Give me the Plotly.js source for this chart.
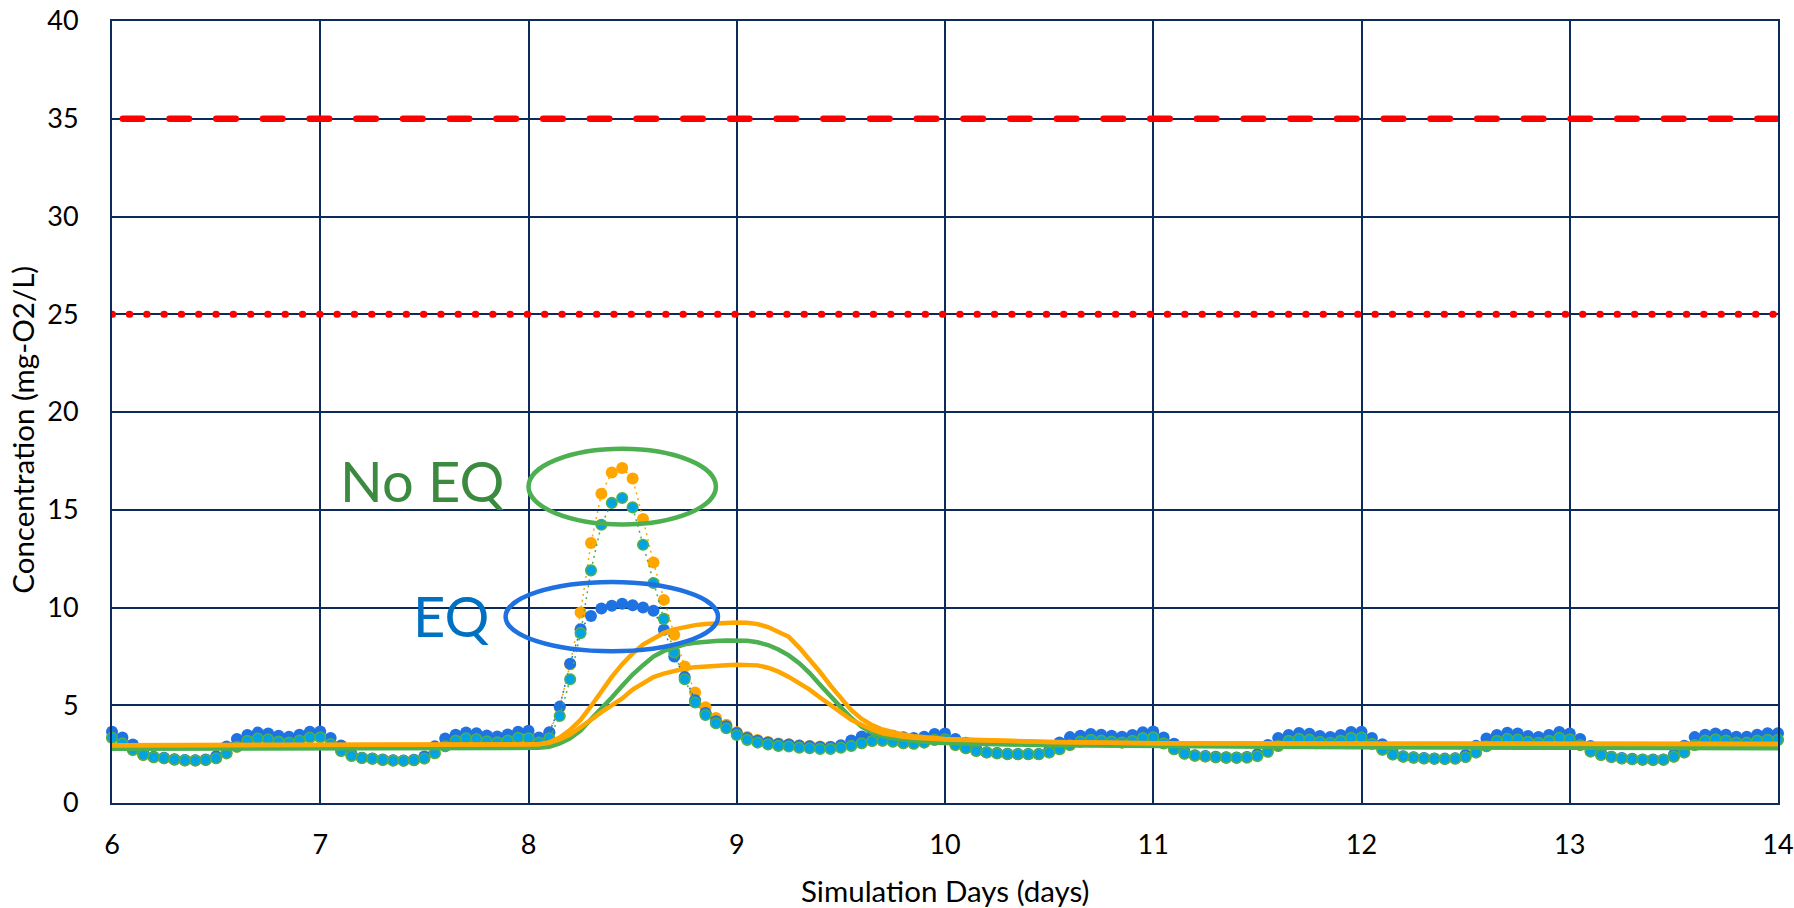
<!DOCTYPE html>
<html>
<head>
<meta charset="utf-8">
<script src="https://cdn.plot.ly/plotly-3.0.1.min.js"></script>
<style>
html,body{margin:0;padding:0;background:#ffffff;}
#chart{width:1794px;height:908px;}
</style>
</head>
<body>
<div id="chart"></div>
<script>
// ---- x values (simulation days) for the dotted marker series ----
const days = [
6,6.05,6.1,6.15,6.2,6.25,6.3,6.35,6.4,6.45,6.5,6.55,6.6,6.65,6.7,6.75,6.8,6.85,6.9,6.95,
7,7.05,7.1,7.15,7.2,7.25,7.3,7.35,7.4,7.45,7.5,7.55,7.6,7.65,7.7,7.75,7.8,7.85,7.9,7.95,
8,8.05,8.1,8.15,8.2,8.25,8.3,8.35,8.4,8.45,8.5,8.55,8.6,8.65,8.7,8.75,8.8,8.85,8.9,8.95,
9,9.05,9.1,9.15,9.2,9.25,9.3,9.35,9.4,9.45,9.5,9.55,9.6,9.65,9.7,9.75,9.8,9.85,9.9,9.95,
10,10.05,10.1,10.15,10.2,10.25,10.3,10.35,10.4,10.45,10.5,10.55,10.6,10.65,10.7,10.75,10.8,10.85,10.9,10.95,
11,11.05,11.1,11.15,11.2,11.25,11.3,11.35,11.4,11.45,11.5,11.55,11.6,11.65,11.7,11.75,11.8,11.85,11.9,11.95,
12,12.05,12.1,12.15,12.2,12.25,12.3,12.35,12.4,12.45,12.5,12.55,12.6,12.65,12.7,12.75,12.8,12.85,12.9,12.95,
13,13.05,13.1,13.15,13.2,13.25,13.3,13.35,13.4,13.45,13.5,13.55,13.6,13.65,13.7,13.75,13.8,13.85,13.9,13.95,
14];

// No EQ, orange dotted series
const orangeDots = [
3.34,3.05,2.71,2.46,2.34,2.29,2.22,2.18,2.17,2.20,2.29,2.54,2.88,3.18,3.30,3.26,3.14,3.09,3.19,3.35,
3.36,3.02,2.66,2.41,2.30,2.26,2.20,2.17,2.16,2.19,2.28,2.55,2.90,3.19,3.31,3.27,3.15,3.10,3.20,3.34,
3.31,3.09,3.60,4.90,7.10,9.74,13.30,15.82,16.91,17.14,16.60,14.53,12.30,10.39,8.60,6.98,5.65,4.90,4.35,4.00,
3.62,3.38,3.22,3.12,3.04,3.00,2.95,2.92,2.89,2.88,2.92,2.98,3.06,3.17,3.19,3.14,3.06,3.03,3.09,3.23,
3.26,2.97,2.80,2.66,2.58,2.54,2.50,2.49,2.49,2.49,2.58,2.75,2.97,3.14,3.23,3.19,3.14,3.09,3.18,3.32,
3.36,3.05,2.75,2.52,2.42,2.38,2.34,2.32,2.31,2.33,2.40,2.62,2.92,3.18,3.28,3.24,3.13,3.08,3.18,3.33,
3.35,3.03,2.72,2.48,2.37,2.32,2.28,2.26,2.25,2.27,2.35,2.58,2.90,3.18,3.29,3.25,3.13,3.08,3.18,3.33,
3.26,2.97,2.63,2.46,2.35,2.28,2.24,2.21,2.20,2.21,2.37,2.58,2.97,3.19,3.26,3.19,3.09,3.09,3.19,3.23,
3.23];

// EQ, blue dotted series
const blueDots = [
3.64,3.35,2.99,2.56,2.36,2.31,2.24,2.20,2.19,2.22,2.39,2.89,3.28,3.48,3.60,3.56,3.44,3.39,3.49,3.65,
3.66,3.32,2.94,2.51,2.32,2.28,2.22,2.19,2.18,2.21,2.38,2.90,3.30,3.49,3.61,3.57,3.45,3.40,3.50,3.64,
3.70,3.35,3.62,4.93,7.12,8.89,9.57,9.95,10.09,10.19,10.12,10.00,9.83,8.86,7.49,6.45,5.25,4.60,4.18,3.92,
3.58,3.33,3.19,3.10,3.02,2.99,2.93,2.90,2.87,2.87,2.95,3.20,3.40,3.47,3.49,3.44,3.36,3.33,3.39,3.53,
3.56,3.27,3.08,2.76,2.60,2.56,2.52,2.51,2.51,2.51,2.68,3.10,3.37,3.44,3.53,3.49,3.44,3.39,3.48,3.62,
3.66,3.35,3.03,2.62,2.44,2.40,2.36,2.34,2.33,2.35,2.50,2.97,3.32,3.48,3.58,3.54,3.43,3.38,3.48,3.63,
3.65,3.33,3.00,2.58,2.39,2.34,2.30,2.28,2.27,2.29,2.45,2.93,3.30,3.48,3.59,3.55,3.43,3.38,3.48,3.63,
3.56,3.27,2.91,2.56,2.37,2.30,2.26,2.23,2.22,2.23,2.47,2.93,3.37,3.49,3.56,3.49,3.39,3.39,3.49,3.57,
3.57];

// No EQ, cyan (green-edged) dotted series
const cyanDots = [
3.34,3.05,2.71,2.46,2.34,2.29,2.22,2.18,2.17,2.20,2.29,2.54,2.88,3.18,3.30,3.26,3.14,3.09,3.19,3.35,
3.36,3.02,2.66,2.41,2.30,2.26,2.20,2.17,2.16,2.19,2.28,2.55,2.90,3.19,3.31,3.27,3.15,3.10,3.20,3.34,
3.31,3.09,3.31,4.45,6.33,8.69,11.90,14.23,15.35,15.60,15.12,13.21,11.25,9.42,7.70,6.33,5.14,4.50,4.08,3.82,
3.48,3.23,3.09,3.00,2.92,2.89,2.83,2.80,2.77,2.77,2.83,2.92,3.06,3.17,3.19,3.14,3.06,3.03,3.09,3.23,
3.26,2.97,2.80,2.66,2.58,2.54,2.50,2.49,2.49,2.49,2.58,2.75,2.97,3.14,3.23,3.19,3.14,3.09,3.18,3.32,
3.36,3.05,2.75,2.52,2.42,2.38,2.34,2.32,2.31,2.33,2.40,2.62,2.92,3.18,3.28,3.24,3.13,3.08,3.18,3.33,
3.35,3.03,2.72,2.48,2.37,2.32,2.28,2.26,2.25,2.27,2.35,2.58,2.90,3.18,3.29,3.25,3.13,3.08,3.18,3.33,
3.26,2.97,2.63,2.46,2.35,2.28,2.24,2.21,2.20,2.21,2.37,2.58,2.97,3.19,3.26,3.19,3.09,3.09,3.19,3.23,
3.23];

// ---- x values for the solid lines ----
const lineDays = [6,7,
8,8.05,8.1,8.15,8.2,8.25,8.3,8.35,8.4,8.45,8.5,8.55,8.6,8.65,8.7,8.75,8.8,8.85,8.9,8.95,
9,9.05,9.1,9.15,9.2,9.25,9.3,9.35,9.4,9.45,9.5,9.55,9.6,9.65,9.7,9.75,9.8,9.85,9.9,9.95,
10,10.5,11,12,13,14];

const orangeLineHigh = [2.95,2.95,
2.97,3.00,3.10,3.35,3.74,4.25,4.95,5.72,6.45,7.10,7.65,8.10,8.43,8.70,8.88,9.00,9.10,9.16,9.20,9.22,
9.23,9.22,9.15,9.00,8.78,8.50,7.95,7.35,6.70,6.00,5.35,4.75,4.30,3.98,3.76,3.60,3.50,3.42,3.36,3.31,
3.27,3.12,3.06,3.03,3.02,3.02];

const greenLine = [2.78,2.78,
2.80,2.82,2.88,3.05,3.31,3.70,4.28,4.82,5.40,6.00,6.57,7.05,7.49,7.78,7.97,8.12,8.20,8.26,8.29,8.31,
8.32,8.30,8.22,8.08,7.85,7.55,7.15,6.65,6.05,5.45,4.90,4.35,3.90,3.60,3.42,3.31,3.24,3.18,3.13,3.10,
3.07,2.95,2.90,2.85,2.82,2.80];

const orangeLineLow = [2.95,2.95,
2.97,3.00,3.08,3.25,3.50,3.85,4.25,4.65,5.00,5.35,5.80,6.15,6.44,6.62,6.76,6.88,6.95,7.00,7.03,7.05,
7.07,7.07,7.04,6.92,6.72,6.45,6.15,5.80,5.40,5.00,4.60,4.25,4.00,3.75,3.57,3.46,3.39,3.34,3.30,3.27,
3.25,3.12,3.06,3.03,3.02,3.02];

// ---- limit lines ----
const limitDays = [6, 14];
const limitDashed = [35, 35];
const limitDotted = [25, 25];

// ---- axis ticks / labels ----
const xTicks = [6,7,8,9,10,11,12,13,14];
const yTicks = [0,5,10,15,20,25,30,35,40];
const xTitle = 'Simulation Days (days)';
const yTitle = 'Concentration (mg-O2/L)';
const labelNoEq = 'No EQ';
const labelEq = 'EQ';

const NAVY = '#0B2B5C';
const FONT = 'Lato, "Open Sans", sans-serif';
const ORANGE = '#FFA500';
const GREEN = '#4CAF50';
const BLUE = '#1E72E2';
const CYAN = '#00A3E8';

const traces = [
  {x: limitDays, y: limitDashed, mode: 'lines', line: {color: '#FF0000', width: 6.5, dash: '19.5px,27.2px'}, hoverinfo: 'skip'},
  {x: limitDays, y: limitDotted, mode: 'lines', line: {color: '#FF0000', width: 7, dash: '0.5px,16.8px'}, hoverinfo: 'skip'},
  {x: days, y: orangeDots, mode: 'lines+markers', cliponaxis: false,
   line: {color: ORANGE, width: 1.5, dash: '2px,4px'}, marker: {color: ORANGE, size: 12}},
  {x: days, y: blueDots, mode: 'lines+markers', cliponaxis: false,
   line: {color: BLUE, width: 1.5, dash: '2px,4px'}, marker: {color: BLUE, size: 12}},
  {x: days, y: cyanDots, mode: 'lines+markers', cliponaxis: false,
   line: {color: GREEN, width: 1.5, dash: '2px,4px'}, marker: {color: CYAN, size: 10.5, line: {color: GREEN, width: 1.6}}},
  {x: lineDays, y: greenLine, mode: 'lines', line: {color: GREEN, width: 4.5}},
  {x: lineDays, y: orangeLineLow, mode: 'lines', line: {color: ORANGE, width: 4.5}},
  {x: lineDays, y: orangeLineHigh, mode: 'lines', line: {color: ORANGE, width: 4.5}}
];

const axisCommon = {
  showgrid: true, gridcolor: NAVY, gridwidth: 2,
  showline: true, linecolor: NAVY, linewidth: 2, mirror: true,
  zeroline: false, ticks: 'outside', tickcolor: 'rgba(0,0,0,0)',
  tickfont: {family: FONT, size: 27, color: '#000000'}
};

const layout = {
  width: 1794, height: 908,
  margin: {l: 112, r: 16, t: 21, b: 105},
  paper_bgcolor: '#ffffff', plot_bgcolor: '#ffffff',
  showlegend: false,
  font: {family: FONT, color: '#000000'},
  xaxis: Object.assign({}, axisCommon, {range: [6, 14], tickvals: xTicks, ticktext: xTicks.map(String), ticklen: 17}),
  yaxis: Object.assign({}, axisCommon, {range: [0, 40], tickvals: yTicks, ticktext: yTicks.map(String), ticklen: 26}),
  shapes: [
    {type: 'circle', xref: 'x', yref: 'y', x0: 8.00, x1: 8.90, y0: 14.25, y1: 18.12, line: {color: GREEN, width: 4.5}, layer: 'above'},
    {type: 'circle', xref: 'x', yref: 'y', x0: 7.89, x1: 8.91, y0: 7.76, y1: 11.3, line: {color: '#1F70E0', width: 4.5}, layer: 'above'}
  ],
  annotations: [
    {text: labelNoEq, x: 7.489, y: 16.5, xref: 'x', yref: 'y', showarrow: false, xanchor: 'center', yanchor: 'middle',
     font: {family: FONT, size: 56, color: '#3B8A3F'}},
    {text: labelEq, x: 7.628, y: 9.58, xref: 'x', yref: 'y', showarrow: false, xanchor: 'center', yanchor: 'middle',
     font: {family: FONT, size: 56, color: '#0070C0'}},
    {text: xTitle, x: 0.5, y: 0, xref: 'paper', yref: 'paper', showarrow: false, xanchor: 'center', yanchor: 'middle', yshift: -87,
     font: {family: FONT, size: 29.5, color: '#000000'}},
    {text: yTitle, x: 0, y: 0.4773, xref: 'paper', yref: 'paper', showarrow: false, xanchor: 'center', yanchor: 'middle', xshift: -89, textangle: -90,
     font: {family: FONT, size: 29.5, color: '#000000'}}
  ]
};

Plotly.newPlot('chart', traces, layout, {displayModeBar: false, staticPlot: true}).then(function(gd){
  const tr = gd.querySelectorAll('.scatterlayer .trace');
  if (tr.length >= 2) {
    const p0 = tr[0].querySelector('path.js-line');
    const p1 = tr[1].querySelector('path.js-line');
    if (p0) { p0.style.strokeLinecap = 'round'; p0.style.strokeDashoffset = '35.85px'; }
    if (p1) { p1.style.strokeLinecap = 'round'; }
  }
});
</script>
</body>
</html>
